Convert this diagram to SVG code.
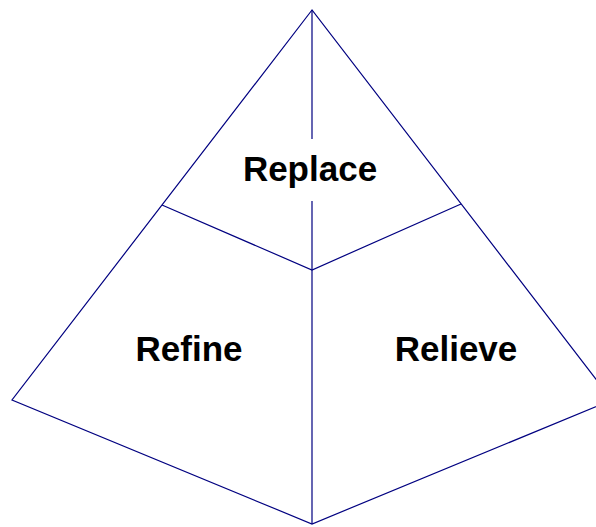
<svg xmlns="http://www.w3.org/2000/svg" width="596" height="527" viewBox="0 0 596 527">
<style>
.ln{stroke:#000080;stroke-width:1.2;fill:none}
.lb{font-family:"Liberation Sans",Arial,sans-serif;font-weight:bold;font-size:35px;fill:#000;text-anchor:middle}
</style>
<rect width="596" height="527" fill="#fff"/>
<g id="connectors">
<path class="ln" d="M312,10 L12,400 L312,524 L612,400 Z"/>
<path class="ln" d="M312,10 L312,139 M312,201 L312,524"/>
<path class="ln" d="M162,205 L312,270 L461,204"/>
</g>
<g id="replace"><text class="lb" x="310" y="181">Replace</text></g>
<g id="refine"><text class="lb" x="189" y="361">Refine</text></g>
<g id="relieve"><text class="lb" x="456" y="361">Relieve</text></g>
</svg>
